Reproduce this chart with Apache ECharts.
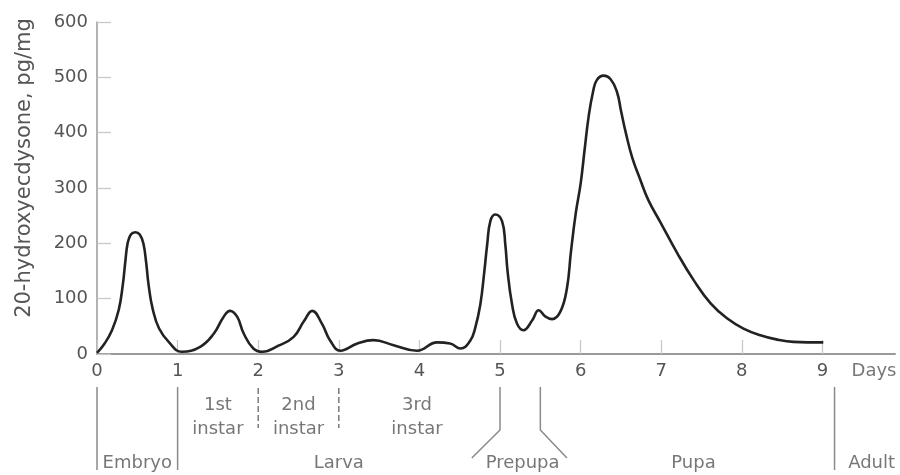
<!DOCTYPE html>
<html>
<head>
<meta charset="utf-8">
<style>
  html, body { margin: 0; padding: 0; background: #fff; }
  #chart { width: 900px; height: 475px; }
</style>
<script src="https://cdn.jsdelivr.net/npm/echarts@6/dist/echarts.min.js"></script>
</head>
<body>
<div id="chart"></div>
<script>
// 20-hydroxyecdysone titre across development (days)
var days = [0, 0.09, 0.186, 0.27, 0.32, 0.35, 0.38, 0.42, 0.476, 0.53, 0.575, 0.61, 0.64, 0.69, 0.77, 0.9, 1.05,
  1.28, 1.45, 1.57, 1.65, 1.74, 1.82, 1.94, 2.05, 2.25, 2.44, 2.57, 2.67, 2.79, 2.89,
  3.02, 3.23, 3.43, 3.68, 3.97, 4.22, 4.38, 4.51, 4.63, 4.69, 4.755, 4.805, 4.84, 4.88, 4.94, 5.025,
  5.066, 5.094, 5.15, 5.21, 5.29, 5.40, 5.48, 5.56, 5.645, 5.75, 5.83, 5.88, 5.94, 6.0,
  6.05, 6.10, 6.154, 6.20, 6.285, 6.37, 6.45, 6.50, 6.56, 6.64, 6.74, 6.84, 6.99,
  7.2, 7.40, 7.61, 7.82, 8.02, 8.23, 8.44, 8.64, 9.01];
var ecdysone = [2, 18, 43, 80, 125, 165, 200, 216, 220, 216, 200, 165, 125, 82, 46, 20, 4,
  13, 37, 67, 78, 67, 37, 10, 4, 15, 31, 60, 78, 55, 25,
  6, 19, 25, 16, 6, 21, 19, 10, 24, 46, 89, 149, 197, 240, 252, 240,
  197, 149, 89, 55, 43, 61, 79, 68, 63, 77, 119, 185, 255, 308,
  370, 430, 474, 495, 503, 497, 474, 440, 400, 355, 315, 278, 238,
  182, 134, 92, 64, 46, 34, 26, 22, 21];

var dayTicks = [0, 1, 2, 3, 4, 5, 6, 7, 8, 9];
var levelTicks = [0, 100, 200, 300, 400, 500, 600];

// Stage boundaries below the time axis (x in days, y = depth below the band top)
var solidBounds = [
  [[0, 7], [0, 90]],
  [[1, 7], [1, 90]],
  [[9.15, 7], [9.15, 90]],
  [[5, 7], [5, 50], [4.65, 78]],
  [[5.5, 7], [5.5, 50], [5.83, 78]]
];
var dashedBounds = [
  [[2, 8], [2, 48]],
  [[3, 8], [3, 48]]
];
var stageNames = ['Embryo', '1st\ninstar', '2nd\ninstar', '3rd\ninstar', 'Larva', 'Prepupa', 'Pupa', 'Adult', 'Days'];
var stageX = [0.5, 1.5, 2.5, 3.97, 3.0, 5.28, 7.4, 9.61, 9.64];
var stageY = [83, 37, 37, 37, 83, 83, 83, 83, -9];

var FONT = 'DejaVu Sans';
var TXT = '#555';

var series = [{
  type: 'line',
  xAxisIndex: 0, yAxisIndex: 0,
  data: days.map(function (d, i) { return [d, ecdysone[i]]; }),
  showSymbol: false,
  symbol: 'none',
  smooth: 0.45,
  lineStyle: { color: '#222', width: 2.6 },
  z: 5
}];

solidBounds.forEach(function (pts) {
  series.push({
    type: 'line', xAxisIndex: 1, yAxisIndex: 1, data: pts,
    symbol: 'none', silent: true,
    lineStyle: { color: '#8a8a8a', width: 1.5 }
  });
});
dashedBounds.forEach(function (pts) {
  series.push({
    type: 'line', xAxisIndex: 1, yAxisIndex: 1, data: pts,
    symbol: 'none', silent: true,
    lineStyle: { color: '#7a7a7a', width: 1.5, type: 'dashed', dashOffset: 0 }
  });
});
series.push({
  type: 'scatter', xAxisIndex: 1, yAxisIndex: 1,
  data: stageNames.map(function (n, i) { return { value: [stageX[i], stageY[i]], name: n }; }),
  symbolSize: 1,
  itemStyle: { color: 'rgba(0,0,0,0)' },
  clip: false,
  label: {
    show: true, position: 'inside',
    formatter: function (p) { return p.name; },
    color: TXT, fontFamily: FONT, fontSize: 18, lineHeight: 24, align: 'center'
  }
});

var chart = echarts.init(document.getElementById('chart'), null, { renderer: 'canvas' });
chart.setOption({
  animation: false,
  backgroundColor: '#fff',
  grid: [
    { left: 97, top: 22, width: 798, height: 332 },
    { left: 97, top: 380, width: 798, height: 95 }
  ],
  xAxis: [{
    gridIndex: 0, type: 'value', min: 0, max: 9.9,
    axisLine: { show: true, lineStyle: { color: '#999', width: 2 } },
    axisTick: { show: true, inside: true, length: 14, customValues: dayTicks, lineStyle: { color: '#c8c8c8', width: 1.3 } },
    axisLabel: { customValues: dayTicks, margin: 8, color: TXT, fontFamily: FONT, fontSize: 18 },
    splitLine: { show: false }
  }, {
    gridIndex: 1, type: 'value', min: 0, max: 9.9, show: false
  }],
  yAxis: [{
    gridIndex: 0, type: 'value', min: 0, max: 600, interval: 100,
    axisLine: { show: true, lineStyle: { color: '#999', width: 1.5 } },
    axisTick: { show: true, inside: true, length: 14, customValues: levelTicks, lineStyle: { color: '#c8c8c8', width: 1.3 } },
    axisLabel: { customValues: levelTicks, margin: 9, color: TXT, fontFamily: FONT, fontSize: 18 },
    splitLine: { show: false }
  }, {
    gridIndex: 1, type: 'value', min: 0, max: 95, inverse: true, show: false
  }],
  graphic: [{
    type: 'text',
    x: 25, y: 168,
    rotation: Math.PI / 2,
    style: {
      text: '20-hydroxyecdysone, pg/mg',
      fill: TXT, font: '21px "DejaVu Sans"',
      textAlign: 'center', textVerticalAlign: 'middle'
    }
  }],
  series: series
});
</script>
</body>
</html>
